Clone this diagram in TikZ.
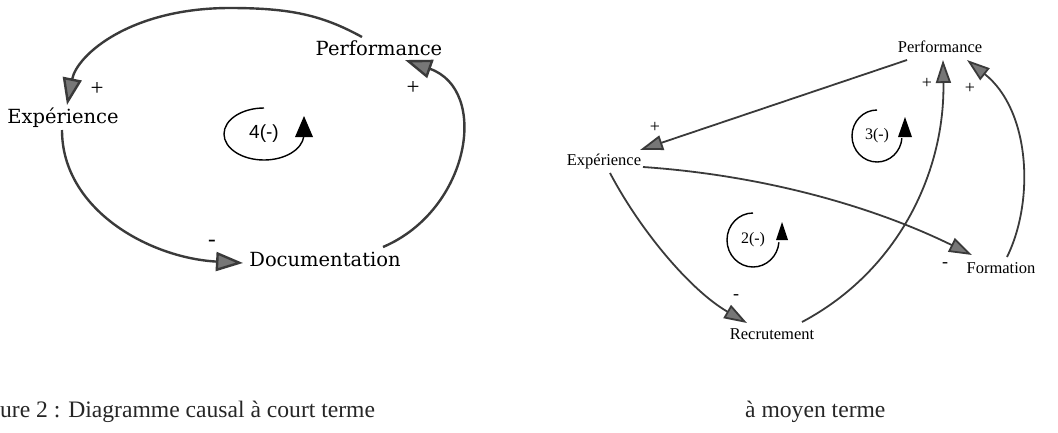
\documentclass[tikz,border=0pt]{standalone}
\usepackage{fontspec}
\setmainfont{Liberation Serif}
\newfontfamily\dvs{DejaVu Serif}
\newfontfamily\lsans{Liberation Sans}
\usetikzlibrary{arrows.meta}
\definecolor{linegray}{HTML}{3A3A3A}
\definecolor{tipgray}{HTML}{777777}
\tikzset{
  lvar/.style={inner sep=0pt, font=\dvs\fontsize{19.5}{22}\selectfont},
  rvar/.style={inner sep=0pt, font=\fontsize{16.5}{19}\selectfont},
  lsign/.style={inner sep=0pt, font=\fontsize{23}{25}\selectfont},
  rsign/.style={inner sep=0pt, font=\fontsize{18}{20}\selectfont},
  llink/.style={draw=linegray, line width=2.4pt,
    -{Triangle[length=27pt,width=19pt,fill=tipgray]}},
  rlink/.style={draw=linegray, line width=1.8pt,
    -{Triangle[length=23pt,width=15pt,fill=tipgray]}},
  loopline/.style={draw=black, line width=1.4pt},
  looptext/.style={inner sep=0pt},
  caption/.style={inner sep=0pt, font=\fontsize{23.6}{27}\selectfont, text=black!85}
}
\begin{document}
\begin{tikzpicture}[x=1pt,y=-1pt]
\useasboundingbox (0,0) rectangle (1058,432);

% ---------- left diagram ----------
\node[lvar] (perfL) at (379,48) {Performance};
\node[lvar] (expL) at (63,118) {Expérience};
\node[lvar] (docL) at (325,259) {Documentation};
\coordinate (topL) at (230,8);

\draw[llink] ([shift={(-17,-11)}]perfL.center) .. controls +(-40,-22) and +(60,0) .. (topL)
  .. controls +(-100,0) and +(10,-50) .. ([shift={(4,-13)}]expL.center);
\draw[llink] ([shift={(-1,12)}]expL.center) .. controls +(0,80) and +(-93,-5) .. ([shift={(-82,4)}]docL.center);
\draw[llink] ([shift={(58,-12)}]docL.center) .. controls +(87,-37) and +(85,30) .. ([shift={(26,12)}]perfL.center);

\node[lsign] (sL1) at (97,89) {+};
\node[lsign] (sL2) at (413,88) {+};
\node[lsign] (sL3) at (212,243) {-};

\node[looptext, font=\lsans\fontsize{19}{22}\selectfont] (loopL) at (264,134) {4(-)};
\draw[loopline] ([shift={(0,-26)}]loopL.center) arc[start angle=270, end angle=5, x radius=40, y radius=26];
\fill ([shift={(40,-18)}]loopL.center) -- ([shift={(31,3)}]loopL.center) -- ([shift={(49,3)}]loopL.center) -- cycle;

% ---------- right diagram ----------
\node[rvar] (perfR) at (940,47) {Performance};
\node[rvar] (expR) at (604,162) {Expérience};
\node[rvar] (form) at (1001,268) {Formation};
\node[rvar] (recr) at (772,334) {Recrutement};

\draw[rlink] ([shift={(-33,13)}]perfR.center) -- ([shift={(36,-12)}]expR.center);
\draw[rlink] ([shift={(39,5)}]expR.center) .. controls +(117,8) and +(-102,-50) .. ([shift={(-29,-13)}]form.center);
\draw[rlink] ([shift={(6,11)}]expR.center) .. controls +(30,57) and +(-57,-33) .. ([shift={(-25,-11)}]recr.center);
\draw[rlink] ([shift={(30,-12)}]recr.center) .. controls +(98,-52) and +(2,110) .. ([shift={(3,13)}]perfR.center);
\draw[rlink] ([shift={(6,-11)}]form.center) .. controls +(28,-57) and +(63,50) .. ([shift={(27,13)}]perfR.center);

\node[rsign] (sR1) at (655,127) {+};
\node[rsign] (sR2) at (927,83) {+};
\node[rsign] (sR3) at (970,88) {+};
\node[rsign] (sR4) at (945,265) {-};
\node[rsign] (sR5) at (736,297) {-};

\node[looptext, font=\fontsize{16}{18}\selectfont] (loop3) at (877,136) {3(-)};
\draw[loopline] ([shift={(0,-26)}]loop3.center) arc[start angle=270, end angle=5, x radius=25, y radius=26];
\fill ([shift={(28,-19)}]loop3.center) -- ([shift={(21,1)}]loop3.center) -- ([shift={(35,1)}]loop3.center) -- cycle;

\node[looptext, font=\fontsize{16}{18}\selectfont] (loop2) at (753,240) {2(-)};
\draw[loopline] ([shift={(0,-27)}]loop2.center) arc[start angle=270, end angle=5, x radius=26, y radius=27];
\fill ([shift={(29,-18)}]loop2.center) -- ([shift={(23,0)}]loop2.center) -- ([shift={(35,0)}]loop2.center) -- cycle;

% ---------- captions ----------
\node[caption, anchor=base west] (capL) at (0,417) {ure 2 : Diagramme causal à court terme};
\node[caption, anchor=base west] (capR) at (745,417) {à moyen terme};
\end{tikzpicture}
\end{document}
